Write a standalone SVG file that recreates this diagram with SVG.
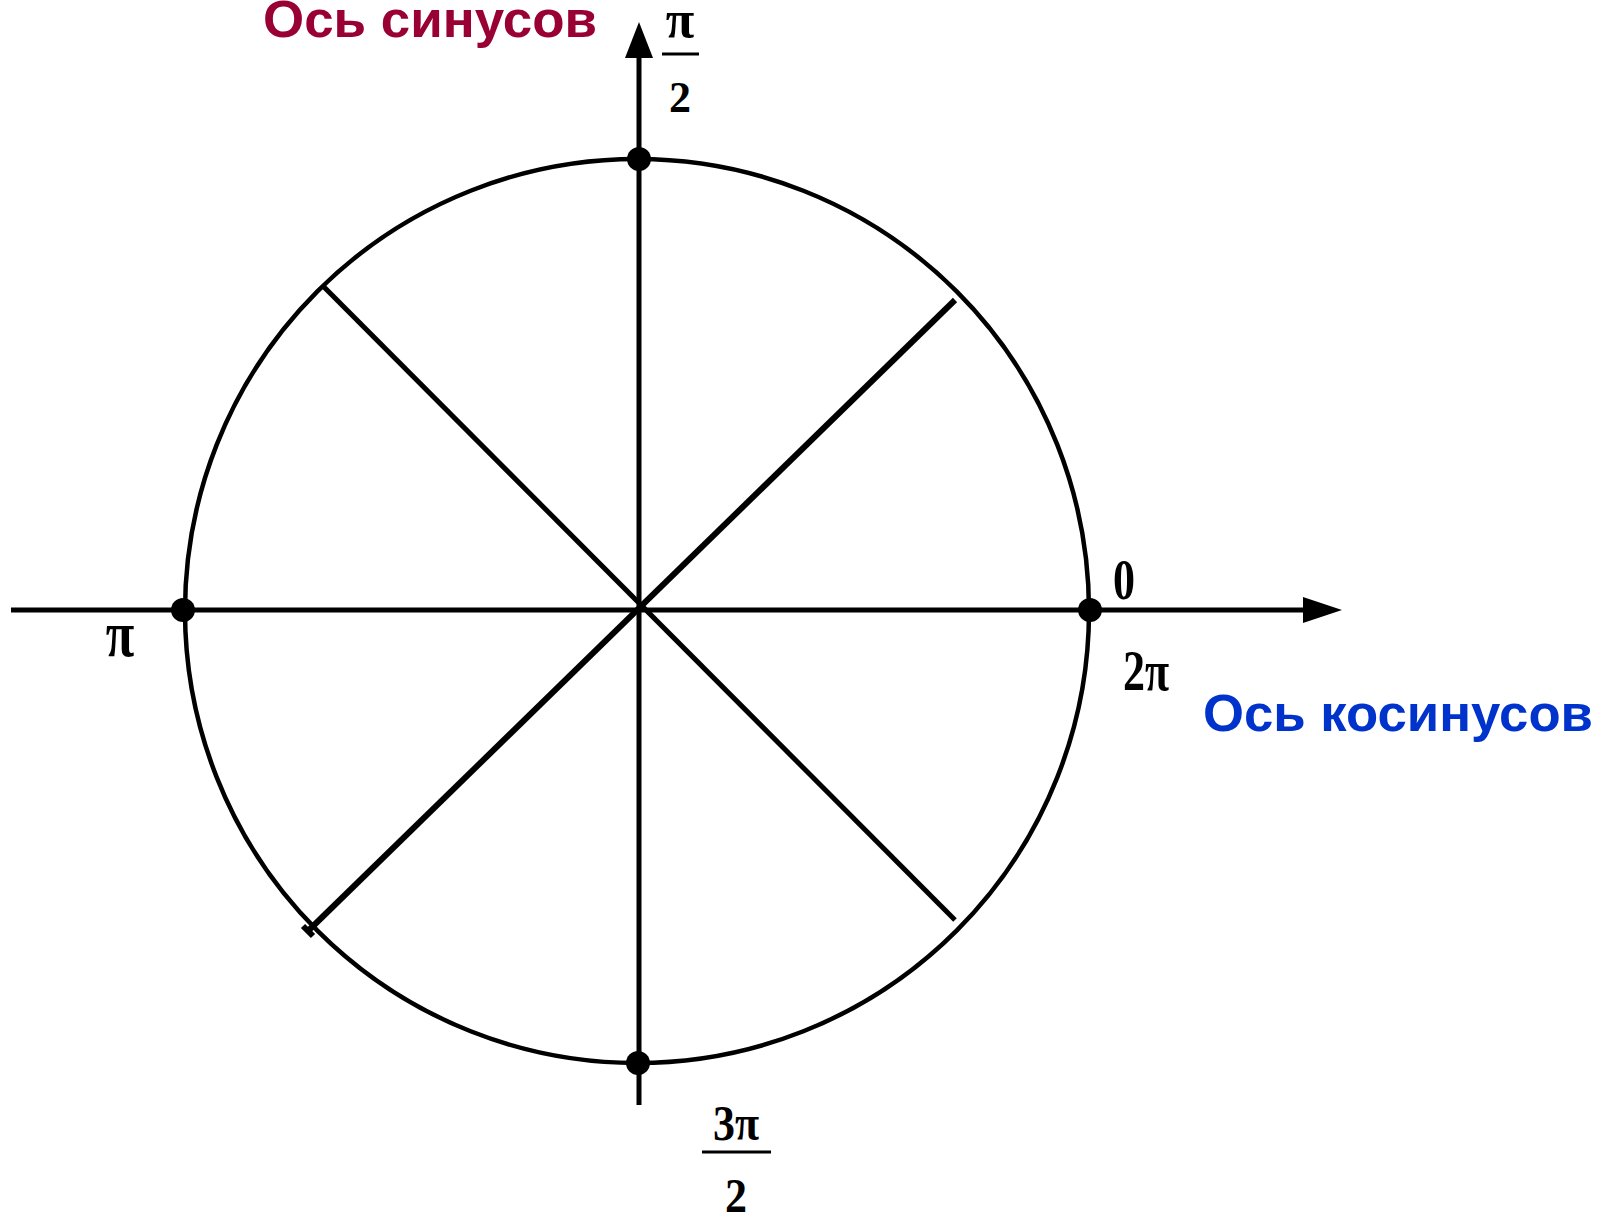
<svg xmlns="http://www.w3.org/2000/svg" width="1601" height="1217" viewBox="0 0 1601 1217">
  <style>
    .ln { stroke: #000; fill: none; }
    .math { font-family: "Liberation Serif", "Times New Roman", serif; font-weight: bold; font-size: 44px; fill: #000; text-anchor: middle; }
    .axis-label { font-family: "Liberation Sans", Arial, sans-serif; font-weight: bold; font-size: 52px; }
  </style>
  <rect width="1601" height="1217" fill="#fff"/>
  <g id="circle">
    <circle class="ln" cx="637" cy="611" r="452" stroke-width="4.5"/>
  </g>
  <g id="connectors">
    <line class="ln" x1="322" y1="285" x2="955" y2="920" stroke-width="5"/>
    <line class="ln" x1="955" y1="300" x2="308" y2="931" stroke-width="6"/>
    <line class="ln" x1="303" y1="926" x2="313" y2="936" stroke-width="6"/>
    <line class="ln" x1="11" y1="610" x2="1305" y2="610" stroke-width="5"/>
    <polygon points="1342,610 1303,597 1303,623" fill="#000"/>
    <line class="ln" x1="639" y1="1105" x2="639" y2="56" stroke-width="5"/>
    <polygon points="639,22 625,58 653,58" fill="#000"/>
  </g>
  <g id="points">
    <circle cx="639" cy="159" r="12" fill="#000"/>
    <circle cx="183" cy="610" r="12" fill="#000"/>
    <circle cx="1090" cy="610" r="12" fill="#000"/>
    <circle cx="638" cy="1063" r="12" fill="#000"/>
  </g>
  <g id="label-sin-axis">
    <text class="axis-label" x="263" y="37" fill="#990033" textLength="334" lengthAdjust="spacingAndGlyphs">Ось синусов</text>
  </g>
  <g id="label-cos-axis">
    <text class="axis-label" x="1203" y="731" fill="#0033CC" textLength="390" lengthAdjust="spacingAndGlyphs">Ось косинусов</text>
  </g>
  <g id="label-pi-half">
    <text class="math" x="680" y="37" style="font-size:52px">π</text>
    <line class="ln" x1="662" y1="54" x2="699" y2="54" stroke-width="3"/>
    <text class="math" x="680" y="112">2</text>
  </g>
  <g id="label-zero">
    <text class="math" transform="translate(1124,599) scale(1,1.3)">0</text>
  </g>
  <g id="label-two-pi">
    <text class="math" transform="translate(1146,690) scale(1,1.3)">2π</text>
  </g>
  <g id="label-pi">
    <text class="math" style="font-size:52px" transform="translate(120,656) scale(1,1.25)">π</text>
  </g>
  <g id="label-three-pi-half">
    <text class="math" transform="translate(736,1140) scale(1,1.17)">3π</text>
    <line class="ln" x1="702" y1="1152" x2="771" y2="1152" stroke-width="3"/>
    <text class="math" transform="translate(736,1212) scale(1,1.1)">2</text>
  </g>
</svg>
